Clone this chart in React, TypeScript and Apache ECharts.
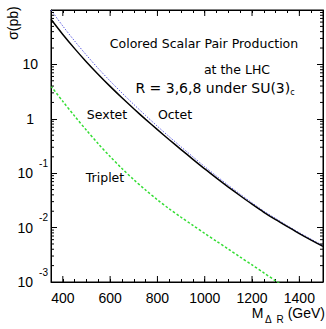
import React, { useEffect, useRef } from "react";
import * as echarts from "echarts";

// Mass points (GeV)
const MASS = [350, 400, 450, 500, 550, 600, 650, 700, 750, 800, 850, 900, 950, 1000, 1050, 1100, 1150, 1200, 1250, 1300, 1350, 1400, 1450, 1500];
// sigma (pb)
const SEXTET = [67.6, 35.5, 19.5, 11.1, 6.53, 3.94, 2.43, 1.53, 0.977, 0.631, 0.412, 0.272, 0.18, 0.12, 0.0813, 0.0556, 0.0385, 0.0269, 0.0191, 0.014, 0.0104, 0.00776, 0.00589, 0.00452];
const OCTET = [100, 50.7, 26.9, 14.8, 8.41, 4.95, 2.99, 1.84, 1.15, 0.728, 0.468, 0.305, 0.2, 0.132, 0.0883, 0.0598, 0.0411, 0.0286, 0.0201, 0.0147, 0.0108, 0.00807, 0.00611, 0.00468];
const TRIPLET = [3.98, 2.09, 1.12, 0.617, 0.347, 0.202, 0.122, 0.0759, 0.049, 0.0324, 0.0221, 0.0155, 0.011, 0.00782, 0.0056, 0.00401, 0.00287, 0.00206, 0.00147, 0.00105, 0.000755];

const X_MIN = 350;
const X_MAX = 1500;
const Y_MIN = 0.001;
const Y_MAX = 100;
const X_MAJOR_TICKS = [400, 600, 800, 1000, 1200, 1400];
const Y_MINOR_TICKS = [
  0.002, 0.003, 0.004, 0.005, 0.006, 0.007, 0.008, 0.009,
  0.02, 0.03, 0.04, 0.05, 0.06, 0.07, 0.08, 0.09,
  0.2, 0.3, 0.4, 0.5, 0.6, 0.7, 0.8, 0.9,
  2, 3, 4, 5, 6, 7, 8, 9,
  20, 30, 40, 50, 60, 70, 80, 90,
];

const SANS = "Liberation Sans, Arial, Helvetica, sans-serif";
const ROUND = "DejaVu Sans, sans-serif";

export default function App() {
  const ref = useRef<HTMLDivElement>(null);
  useEffect(() => {
    if (!ref.current) return;
    const chart = echarts.init(ref.current, undefined, { renderer: "svg" });
    const zip = (ys: number[]) => ys.map((y, i) => [MASS[i], y]);
    const xAxisBase = {
      type: "value",
      min: X_MIN,
      max: X_MAX,
      interval: 50,
      splitLine: { show: false },
      axisLine: { show: true, lineStyle: { color: "#000", width: 1 } },
      axisTick: { show: true, inside: true, length: 3, lineStyle: { color: "#000" } },
    };
    const yAxisBase = {
      type: "log",
      logBase: 10,
      min: Y_MIN,
      max: Y_MAX,
      splitLine: { show: false },
      axisLine: { show: true, lineStyle: { color: "#000", width: 1 } },
      axisTick: { show: true, inside: true, length: 6, lineStyle: { color: "#000" } },
    };
    chart.setOption({
      animation: false,
      backgroundColor: "#fff",
      grid: { left: 51, top: 10, right: 1, bottom: 47, show: true, borderColor: "#000", borderWidth: 1 },
      xAxis: [
        {
          ...xAxisBase,
          position: "bottom",
          axisLabel: {
            show: true,
            margin: 9,
            fontSize: 14,
            fontFamily: SANS,
            color: "#000",
            formatter: (v: number) => (X_MAJOR_TICKS.indexOf(v) >= 0 ? String(v) : ""),
          },
        },
        { ...xAxisBase, position: "top", axisLabel: { show: false } },
      ],
      yAxis: [
        {
          ...yAxisBase,
          position: "left",
          axisLabel: {
            show: true,
            margin: 3,
            fontSize: 14,
            fontFamily: SANS,
            color: "#000",
            formatter: (v: number) => {
              const e = Math.round(Math.log10(v));
              if (e === 0) return "{n|1}";
              if (e === 1) return "{t|10}";
              if (e < 0) return `{b|10}{s|${e}}`;
              return "";
            },
            rich: {
              b: { fontSize: 14, fontFamily: SANS, color: "#000", verticalAlign: "middle" },
              s: { fontSize: 10, fontFamily: SANS, color: "#000", verticalAlign: "middle", padding: [0, 0, 20, 6] },
              n: { fontSize: 14, fontFamily: SANS, color: "#000", padding: [0, 14, 0, 0] },
              t: { fontSize: 14, fontFamily: SANS, color: "#000", padding: [0, 10, 0, 0] },
            },
          },
        },
        { ...yAxisBase, position: "right", axisLabel: { show: false } },
      ],
      graphic: [
        { type: "text", x: 13, y: 23, rotation: Math.PI / 2, style: { text: "σ(pb)", font: `14px ${SANS}`, fill: "#000", align: "center", verticalAlign: "middle" } },
        {
          type: "text", x: 325, y: 313,
          style: {
            text: "{m|M}{d|Δ  R}{g| (GeV)}", align: "right", verticalAlign: "middle",
            rich: {
              m: { fontSize: 14, fontFamily: SANS, fill: "#000", verticalAlign: "middle" },
              d: { fontSize: 10, fontFamily: SANS, fill: "#000", verticalAlign: "middle", padding: [12, 0, 0, 1] },
              g: { fontSize: 14, fontFamily: SANS, fill: "#000", verticalAlign: "middle" },
            },
          },
        },
        { type: "text", x: 204, y: 43, style: { text: "Colored Scalar Pair Production", font: `12.5px ${ROUND}`, fill: "#000", align: "center", verticalAlign: "middle" } },
        { type: "text", x: 237, y: 69, style: { text: "at the LHC", font: `12.5px ${ROUND}`, fill: "#000", align: "center", verticalAlign: "middle" } },
        {
          type: "text", x: 215, y: 88,
          style: {
            text: "{a|R = 3,6,8 under SU(3)}{c|c}", align: "center", verticalAlign: "middle",
            rich: {
              a: { fontSize: 14, fontFamily: ROUND, fill: "#000", verticalAlign: "middle" },
              c: { fontSize: 8, fontFamily: ROUND, fill: "#000", verticalAlign: "middle", padding: [8, 0, 0, 0] },
            },
          },
        },
        { type: "text", x: 107, y: 114, style: { text: "Sextet", font: `12.5px ${ROUND}`, fill: "#000", align: "center", verticalAlign: "middle" } },
        { type: "text", x: 175, y: 114, style: { text: "Octet", font: `12.5px ${ROUND}`, fill: "#000", align: "center", verticalAlign: "middle" } },
        { type: "text", x: 105, y: 177, style: { text: "Triplet", font: `12.5px ${ROUND}`, fill: "#000", align: "center", verticalAlign: "middle" } },
      ],
      series: [
        {
          name: "Octet", type: "line", data: zip(OCTET), showSymbol: false, smooth: 0.3, clip: true,
          lineStyle: { color: "#5a5ae0", width: 1, type: [1.5, 1.5] }, z: 3,
        },
        {
          name: "Sextet", type: "line", data: zip(SEXTET), showSymbol: false, smooth: 0.3, clip: true,
          lineStyle: { color: "#000", width: 1.5, type: "solid" }, z: 4,
        },
        {
          name: "Triplet", type: "line", data: zip(TRIPLET), showSymbol: false, smooth: 0.3, clip: true,
          lineStyle: { color: "#33dd33", width: 1.5, type: [2.5, 2] }, z: 3,
        },
        {
          name: "yMinorTicks", type: "custom", silent: true, z: 6,
          data: Y_MINOR_TICKS.map((v) => [X_MIN, v]),
          renderItem: (_p: any, api: any) => {
            const v = api.value(1);
            const a = api.coord([X_MIN, v]);
            const b = api.coord([X_MAX, v]);
            return {
              type: "group",
              children: [
                { type: "line", shape: { x1: a[0], y1: a[1], x2: a[0] + 3, y2: a[1] }, style: { stroke: "#000", lineWidth: 1 } },
                { type: "line", shape: { x1: b[0] - 3, y1: b[1], x2: b[0], y2: b[1] }, style: { stroke: "#000", lineWidth: 1 } },
              ],
            };
          },
        },
        {
          name: "xMajorTicks", type: "custom", silent: true, z: 6,
          data: X_MAJOR_TICKS.map((v) => [v, Y_MIN]),
          renderItem: (_p: any, api: any) => {
            const v = api.value(0);
            const a = api.coord([v, Y_MIN]);
            const b = api.coord([v, Y_MAX]);
            return {
              type: "group",
              children: [
                { type: "line", shape: { x1: a[0], y1: a[1], x2: a[0], y2: a[1] - 6 }, style: { stroke: "#000", lineWidth: 1 } },
                { type: "line", shape: { x1: b[0], y1: b[1], x2: b[0], y2: b[1] + 6 }, style: { stroke: "#000", lineWidth: 1 } },
              ],
            };
          },
        },
      ],
    });
    return () => chart.dispose();
  }, []);
  return <div ref={ref} style={{ position: "absolute", left: 0, top: 0, width: 326, height: 329 }} />;
}
